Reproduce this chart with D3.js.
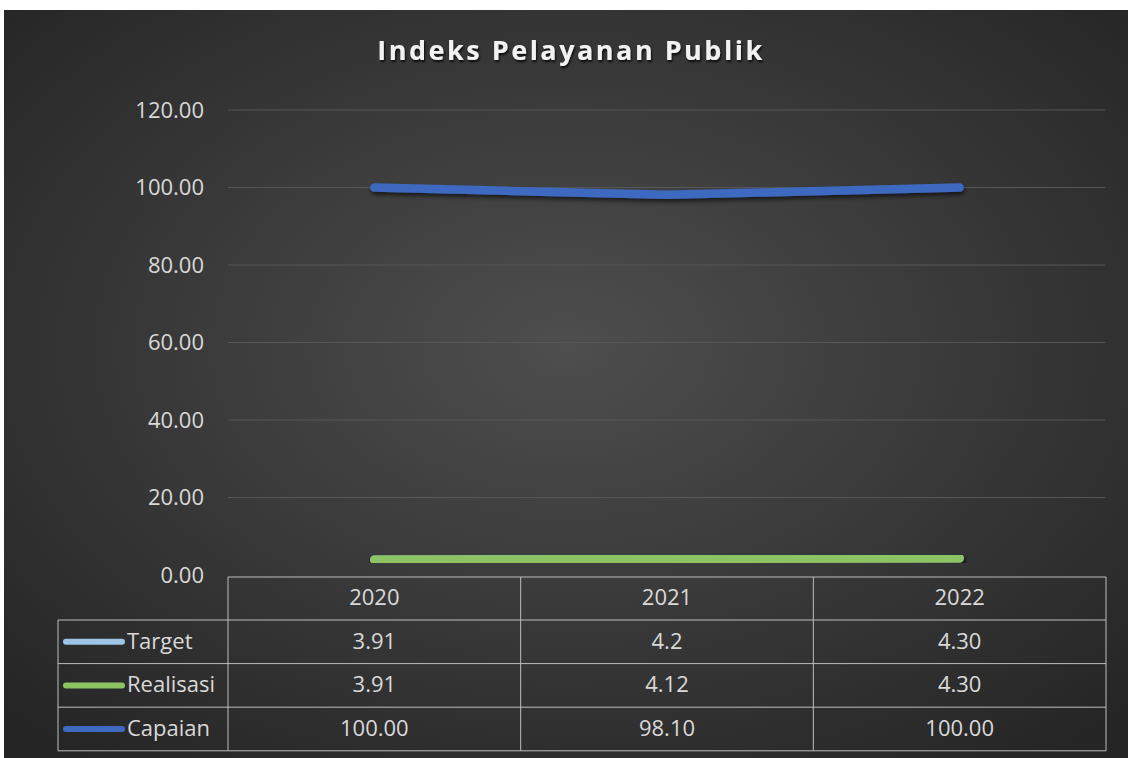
<!DOCTYPE html>
<head>
<meta charset="utf-8">
<script src="https://d3js.org/d3.v7.min.js"></script>
<title>Indeks Pelayanan Publik</title>
<style>
  body { margin: 0; background: #fff; }
  text { font-family: 'Open Sans', sans-serif; }
</style>
</head>
<body>
<svg id="chart" width="1128" height="758"></svg>
<script>
// chart data
const years = ['2020', '2021', '2022'];
const seriesNames = ['Target', 'Realisasi', 'Capaian'];
const target = [3.91, 4.2, 4.30];
const realisasi = [3.91, 4.12, 4.30];
const capaian = [100.00, 98.10, 100.00];
// table cells as shown in the sheet
const targetText = ['3.91', '4.2', '4.30'];
const realisasiText = ['3.91', '4.12', '4.30'];
const capaianText = ['100.00', '98.10', '100.00'];
const yTicks = [0, 20, 40, 60, 80, 100, 120];

const colors = { 'Target': '#9dc3e6', 'Realisasi': '#8cc464', 'Capaian': '#3d69c0' };
const series = [
  { name: 'Target', values: target, text: targetText },
  { name: 'Realisasi', values: realisasi, text: realisasiText },
  { name: 'Capaian', values: capaian, text: capaianText }
];

const svg = d3.select('#chart');
const defs = svg.append('defs');

let grad = defs.append('radialGradient')
  .attr('id', 'bg').attr('cx', '50%').attr('cy', '45%').attr('r', '70%');
grad.append('stop').attr('offset', '0%').attr('stop-color', '#4e4e4e');
grad.append('stop').attr('offset', '100%').attr('stop-color', '#252525');

let sh = defs.append('filter').attr('id', 'shadow')
  .attr('x', '-10%').attr('y', '-200%').attr('width', '120%').attr('height', '500%');
sh.append('feDropShadow').attr('dx', 1).attr('dy', 3).attr('stdDeviation', 2)
  .attr('flood-color', '#000').attr('flood-opacity', 0.6);

let tsh = defs.append('filter').attr('id', 'tshadow');
tsh.append('feDropShadow').attr('dx', 1).attr('dy', 2).attr('stdDeviation', 1.2)
  .attr('flood-color', '#000').attr('flood-opacity', 0.8);

svg.append('rect')
  .attr('x', 4).attr('y', 10).attr('width', 1124).attr('height', 748)
  .attr('fill', 'url(#bg)');

// title
svg.append('text')
  .attr('x', 571).attr('y', 53)
  .attr('text-anchor', 'middle')
  .attr('dominant-baseline', 'middle')
  .style('font-size', '27px')
  .style('font-weight', 'bold')
  .style('letter-spacing', '2.5px')
  .attr('fill', '#f2f2f2')
  .attr('filter', 'url(#tshadow)')
  .text('Indeks Pelayanan Publik');

const x = d3.scaleBand().domain(years).range([228, 1106]).padding(0);
const y = d3.scaleLinear().domain([0, 120]).range([575, 110]);

// gridlines
svg.append('g')
  .selectAll('line')
  .data(yTicks.filter(d => d > 0))
  .enter()
  .append('line')
    .attr('x1', 228).attr('x2', 1105)
    .attr('y1', d => y(d)).attr('y2', d => y(d))
    .attr('stroke', '#575757').attr('stroke-width', 1);

// y axis labels
let yaxis = svg.append('g')
  .attr('transform', 'translate(216,0)')
  .call(d3.axisLeft(y).tickValues(yTicks).tickFormat(d3.format('.2f')).tickSize(0).tickPadding(12));
yaxis.select('.domain').remove();
yaxis.selectAll('text')
  .attr('fill', '#d9d9d9')
  .style('font-size', '22px')
  .style('font-family', "'Open Sans', sans-serif");

// lines
const line = d3.line()
  .x((d, i) => x(years[i]) + x.bandwidth() / 2)
  .y(d => y(d));

series.forEach(function(s) {
  svg.append('path')
    .datum(s.values)
    .attr('d', line)
    .attr('fill', 'none')
    .attr('stroke', colors[s.name])
    .attr('stroke-width', 8.5)
    .attr('stroke-linecap', 'round')
    .attr('stroke-linejoin', 'round')
    .attr('filter', 'url(#shadow)');
});

// data table
const tableTop = 577, headH = 43, rowH = 43.6, labelLeft = 58;
const tg = svg.append('g');
const border = '#bdbdbd';
const rowsBottom = tableTop + headH + rowH * 3;

tg.append('line').attr('x1', 228).attr('x2', 1106).attr('y1', tableTop).attr('y2', tableTop).attr('stroke', border);
for (let r = 0; r <= 3; r++) {
  let yy = tableTop + headH + r * rowH;
  tg.append('line').attr('x1', labelLeft).attr('x2', 1106).attr('y1', yy).attr('y2', yy).attr('stroke', border);
}
tg.append('line').attr('x1', labelLeft).attr('x2', labelLeft).attr('y1', tableTop + headH).attr('y2', rowsBottom).attr('stroke', border);
years.forEach(function(yr) {
  tg.append('line').attr('x1', x(yr)).attr('x2', x(yr)).attr('y1', tableTop).attr('y2', rowsBottom).attr('stroke', border);
});
tg.append('line').attr('x1', 1106).attr('x2', 1106).attr('y1', tableTop).attr('y2', rowsBottom).attr('stroke', border);

// header
tg.selectAll('.yr')
  .data(years)
  .enter()
  .append('text')
    .attr('x', d => x(d) + x.bandwidth() / 2)
    .attr('y', tableTop + headH / 2 + 1)
    .attr('text-anchor', 'middle')
    .attr('dominant-baseline', 'middle')
    .attr('fill', '#d9d9d9')
    .style('font-size', '22px')
    .text(d => d);

series.forEach(function(s, r) {
  let cy = tableTop + headH + r * rowH + rowH / 2;
  tg.append('line')
    .attr('x1', 66).attr('x2', 122)
    .attr('y1', cy).attr('y2', cy)
    .attr('stroke', colors[s.name])
    .attr('stroke-width', 6)
    .attr('stroke-linecap', 'round');
  tg.append('text')
    .attr('x', 127).attr('y', cy + 1)
    .attr('dominant-baseline', 'middle')
    .attr('fill', '#d9d9d9')
    .style('font-size', '22px')
    .text(s.name);
  tg.selectAll('.v' + r)
    .data(s.text)
    .enter()
    .append('text')
      .attr('x', (d, i) => x(years[i]) + x.bandwidth() / 2)
      .attr('y', cy + 1)
      .attr('text-anchor', 'middle')
      .attr('dominant-baseline', 'middle')
      .attr('fill', '#d9d9d9')
      .style('font-size', '22px')
      .text(d => d);
});
</script>
</body>
